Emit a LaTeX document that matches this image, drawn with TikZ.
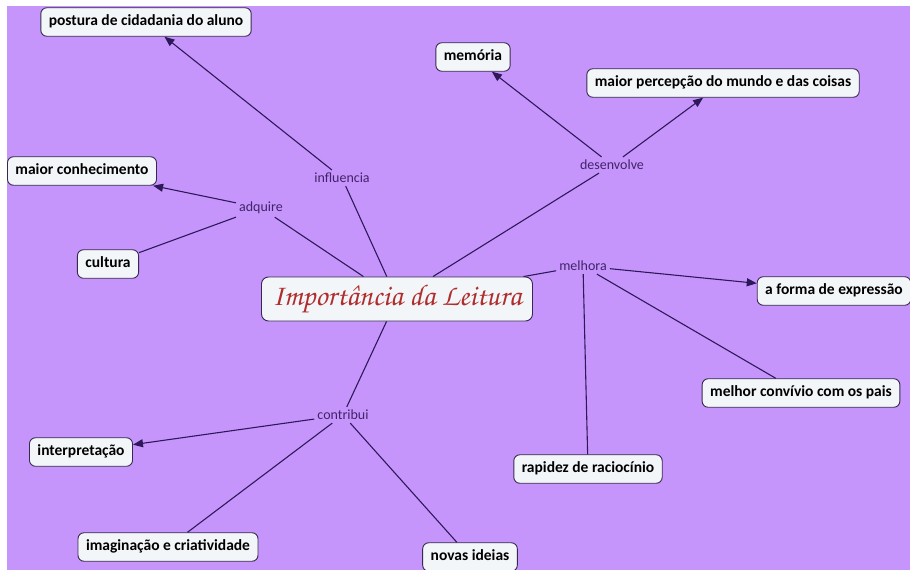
\documentclass[tikz,border=0pt]{standalone}
\usepackage{fontspec}
\setmainfont{Carlito}
\newfontfamily\chorus[Extension=.otf]{texgyrechorus-mediumitalic}
\usetikzlibrary{arrows.meta}
\definecolor{bg}{RGB}{198,149,252}
\definecolor{boxfill}{RGB}{243,246,248}
\definecolor{boxline}{RGB}{55,40,80}
\definecolor{linkc}{RGB}{45,25,90}
\definecolor{labtext}{RGB}{65,35,105}
\definecolor{titlec}{RGB}{175,45,45}
\begin{document}
\begin{tikzpicture}[x=1pt,y=-1pt,
  box/.style={draw=boxline, fill=boxfill, rounded corners=6pt, line width=0.9pt,
    font=\fontsize{15.5}{18}\selectfont\bfseries, inner xsep=8pt, inner ysep=7pt,
    text height=11pt, text depth=3.5pt, text=black},
  lab/.style={font=\fontsize{14}{16}\selectfont, text=labtext, inner sep=3pt},
  link/.style={draw=linkc, line width=1.1pt},
  arr/.style={link, -{Triangle[length=10pt,width=8pt]}}]
\useasboundingbox (0,0) rectangle (910,570);
\fill[white] (0,0) rectangle (910,570);
\fill[bg] (7,6) rectangle (910,570);

% central node
\node[draw=boxline, fill=boxfill, rounded corners=7pt, line width=0.9pt,
  minimum width=271pt, minimum height=44pt, text=titlec,
  font=\chorus\fontsize{30}{34}\selectfont] (c) at (397,299) {Importância da Leitura};

% concept boxes
\node[box] (postura) at (146,22) {postura de cidadania do aluno};
\node[box] (memoria) at (473,57) {memória};
\node[box] (percep) at (723,83) {maior percepção do mundo e das coisas};
\node[box] (conhec) at (82,171) {maior conhecimento};
\node[box] (cultura) at (108,264) {cultura};
\node[box] (forma) at (834,291) {a forma de expressão};
\node[box] (convivio) at (801,393) {melhor convívio com os pais};
\node[box] (rapidez) at (588,469) {rapidez de raciocínio};
\node[box] (interp) at (81,452) {interpretação};
\node[box] (imag) at (168,547) {imaginação e criatividade};
\node[box] (novas) at (470,557) {novas ideias};

% link labels
\node[lab] (influencia) at (342,178) {influencia};
\node[lab] (adquire) at (261,208) {adquire};
\node[lab] (desenvolve) at (612,165) {desenvolve};
\node[lab] (melhora) at (583,266) {melhora};
\node[lab] (contribui) at (343,415) {contribui};

% connectors
\draw[link] (c) -- (influencia);
\draw[arr] (influencia) -- (postura);
\draw[link] (c) -- (adquire);
\draw[arr] (adquire) -- (conhec);
\draw[link] (adquire) -- (cultura);
\draw[link] (c) -- (desenvolve);
\draw[arr] (desenvolve) -- (memoria);
\draw[arr] (desenvolve) -- (percep);
\draw[link] (c) -- (melhora);
\draw[arr] (melhora) -- (forma);
\draw[link] (melhora) -- (convivio);
\draw[link] (melhora) -- (rapidez);
\draw[link] (c) -- (contribui);
\draw[arr] (contribui) -- (interp);
\draw[link] (contribui) -- (imag);
\draw[link] (contribui) -- (novas);
\end{tikzpicture}
\end{document}
